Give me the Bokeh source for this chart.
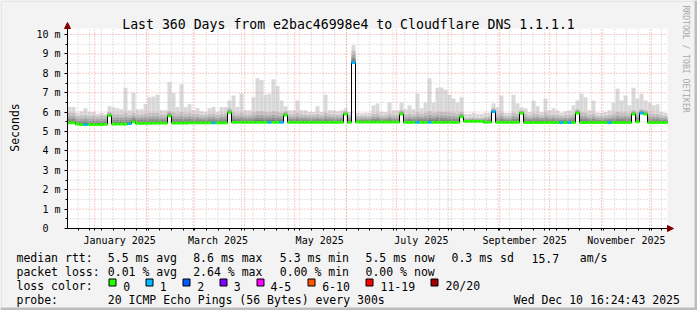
import numpy as np
import pandas as pd
from bokeh.plotting import figure
from bokeh.models import (Range1d, FixedTicker, DatetimeTickFormatter, DatetimeAxis,
                          LinearAxis, Arrow, NormalHead)
from bokeh.core.properties import value
from bokeh.embed import file_html
from bokeh.resources import INLINE

# ---------------- data ----------------
START = "2024-12-15 16:24:43"
END = "2025-12-10 16:24:43"
BIN_DAYS = 2.4

median_ms = [
    5.45, 5.45, 5.38, 5.36, 5.36, 5.35, 5.36, 5.36, 5.36, 5.37,
    5.82, 5.38, 5.38, 5.38, 5.38, 5.40, 5.50, 5.42, 5.42, 5.42,
    5.42, 5.43, 5.43, 5.43, 5.43, 5.80, 5.43, 5.43, 5.43, 5.43,
    5.45, 5.45, 5.45, 5.45, 5.45, 5.45, 5.45, 5.45, 5.45, 5.45,
    5.98, 5.47, 5.47, 5.47, 5.47, 5.47, 5.47, 5.47, 5.47, 5.47,
    5.47, 5.47, 5.47, 5.47, 5.85, 5.47, 5.47, 5.47, 5.47, 5.47,
    5.47, 5.47, 5.47, 5.47, 5.47, 5.47, 5.47, 5.47, 5.47, 5.90,
    5.47, 8.55, 5.48, 5.48, 5.48, 5.48, 5.48, 5.48, 5.48, 5.48,
    5.48, 5.48, 5.48, 5.90, 5.47, 5.47, 5.47, 5.47, 5.47, 5.47,
    5.47, 5.47, 5.47, 5.47, 5.47, 5.47, 5.47, 5.47, 5.75, 5.52,
    5.52, 5.52, 5.52, 5.52, 5.47, 5.48, 6.02, 5.47, 5.47, 5.47,
    5.47, 5.47, 5.47, 5.95, 5.46, 5.46, 5.46, 5.46, 5.46, 5.46,
    5.46, 5.46, 5.46, 5.46, 5.46, 5.46, 5.46, 5.95, 5.46, 5.46,
    5.46, 5.46, 5.46, 5.46, 5.46, 5.46, 5.46, 5.46, 5.46, 5.46,
    5.46, 5.90, 5.50, 5.95, 5.90, 5.46, 5.46, 5.46, 5.46, 5.46,
]

smoke_mid_ms = [
    5.95, 5.95, 5.80, 5.82, 5.85, 5.80, 5.82, 5.78, 5.82, 5.80,
    6.00, 5.90, 5.90, 5.88, 5.95, 5.85, 5.95, 5.88, 5.88, 5.92,
    5.95, 5.95, 5.95, 5.88, 5.88, 6.05, 5.98, 5.92, 6.00, 5.92,
    5.95, 5.88, 5.90, 5.85, 5.85, 5.90, 5.92, 5.85, 5.92, 5.92,
    6.20, 5.98, 5.92, 5.98, 5.88, 5.88, 5.98, 6.05, 6.05, 6.00,
    5.98, 6.05, 6.00, 5.95, 6.05, 5.88, 5.88, 5.95, 5.88, 5.88,
    5.85, 5.85, 5.90, 5.85, 5.95, 5.88, 5.88, 5.85, 5.88, 6.05,
    5.85, 9.15, 5.80, 5.80, 5.80, 5.80, 5.90, 5.92, 5.82, 5.82,
    5.92, 5.85, 5.85, 6.10, 5.88, 5.92, 5.88, 5.98, 5.90, 5.95,
    6.05, 5.95, 6.02, 6.02, 6.00, 5.98, 5.95, 5.92, 6.00, 5.70,
    5.70, 5.72, 5.70, 5.70, 5.75, 5.78, 6.20, 5.90, 5.95, 5.80,
    5.80, 5.95, 5.90, 6.10, 5.90, 5.82, 5.92, 5.90, 5.82, 5.95,
    5.85, 5.88, 5.85, 5.80, 5.82, 5.85, 5.90, 6.15, 5.98, 5.95,
    5.85, 5.92, 5.80, 5.80, 5.82, 5.85, 5.92, 6.00, 5.95, 5.98,
    5.92, 6.10, 5.98, 6.15, 6.10, 5.92, 5.90, 5.90, 5.82, 5.80,
]

smoke_top_ms = [
    6.26, 6.26, 5.95, 6.05, 6.20, 6.00, 6.00, 5.90, 5.95, 5.90,
    6.30, 6.25, 6.20, 6.15, 7.25, 6.10, 7.00, 6.15, 6.15, 6.40,
    6.77, 6.80, 6.90, 6.10, 6.10, 7.55, 6.98, 6.26, 7.43, 6.25,
    6.40, 6.10, 6.20, 6.05, 6.00, 6.20, 6.26, 6.00, 6.26, 6.26,
    6.60, 6.86, 6.26, 6.95, 6.10, 6.10, 6.77, 7.75, 7.65, 6.90,
    6.95, 7.70, 7.35, 6.60, 6.30, 6.10, 6.10, 6.60, 6.10, 6.10,
    6.00, 6.00, 6.30, 6.00, 6.90, 6.10, 6.10, 6.05, 6.10, 6.20,
    6.00, 9.45, 5.95, 5.93, 5.95, 5.95, 6.34, 6.45, 6.00, 6.00,
    6.50, 6.10, 6.10, 6.50, 6.15, 6.35, 6.15, 6.95, 6.20, 6.50,
    7.75, 6.50, 7.25, 7.27, 7.15, 6.90, 6.70, 6.50, 6.77, 5.90,
    5.90, 5.95, 5.90, 5.90, 5.95, 5.95, 6.45, 6.25, 6.86, 5.95,
    5.95, 6.90, 6.45, 6.25, 6.20, 6.00, 6.60, 6.30, 6.00, 6.70,
    6.10, 6.20, 6.10, 5.95, 6.05, 6.10, 6.35, 6.60, 6.95, 6.77,
    6.10, 6.60, 5.95, 5.95, 6.00, 6.10, 6.50, 7.20, 6.60, 6.86,
    6.35, 7.25, 6.70, 6.95, 6.60, 6.50, 6.35, 6.40, 6.00, 5.95,
]

loss_count = [
    0, 0, 0, 0, 1, 0, 0, 0, 0, 0,
    0, 0, 0, 0, 0, 1, 0, 0, 0, 0,
    0, 0, 0, 0, 0, 0, 0, 0, 0, 0,
    0, 0, 0, 0, 0, 0, 1, 0, 0, 0,
    0, 0, 0, 0, 0, 0, 0, 0, 0, 0,
    1, 0, 0, 1, 0, 0, 0, 0, 0, 0,
    0, 0, 0, 0, 0, 0, 0, 0, 0, 0,
    0, 1, 0, 0, 0, 0, 0, 0, 0, 0,
    0, 0, 0, 0, 0, 0, 0, 1, 0, 0,
    1, 0, 0, 0, 0, 0, 0, 0, 0, 0,
    0, 0, 0, 0, 0, 0, 1, 0, 0, 0,
    0, 0, 0, 0, 0, 0, 0, 0, 0, 0,
    0, 0, 0, 1, 0, 1, 0, 0, 0, 0,
    0, 0, 0, 0, 0, 1, 0, 0, 0, 0,
    0, 0, 0, 1, 0, 0, 0, 0, 0, 0,
]

y_tick_values = [0, 1, 2, 3, 4, 5, 6, 7, 8, 9, 10]
y_tick_labels = ["0\u00a0\u00a0", "1 m", "2 m", "3 m", "4 m", "5 m",
                 "6 m", "7 m", "8 m", "9 m", "10 m"]
x_label_dates = ["2025-01-16", "2025-03-16", "2025-05-16", "2025-07-16",
                 "2025-09-16", "2025-11-16"]
month_starts = ["2025-01-01", "2025-02-01", "2025-03-01", "2025-04-01",
                "2025-05-01", "2025-06-01", "2025-07-01", "2025-08-01",
                "2025-09-01", "2025-10-01", "2025-11-01", "2025-12-01"]
first_week_line = "2024-12-22"

loss_labels = ["0", "1", "2", "3", "4-5", "6-10", "11-19", "20/20"]
loss_colors = ["#26ff00", "#00b8ff", "#0059ff", "#7e00ff", "#ff00ff",
               "#ff5500", "#ff0000", "#a00000"]

title_text = "Last 360 Days from e2bac46998e4 to Cloudflare DNS 1.1.1.1"
rtt_row = [("median rtt:", 16), ("5.5 ms avg", 107.3), ("8.6 ms max", 192.7),
           ("5.3 ms min", 279.3), ("5.5 ms now", 365), ("0.3 ms sd", 451),
           ("15.7", 531), ("am/s", 579.3)]
loss_row = [("packet loss:", 16), ("0.01 % avg", 107.3), ("2.64 % max", 192.7),
            ("0.00 % min", 279.3), ("0.00 % now", 365)]
probe_row = [("probe:", 16), ("20 ICMP Echo Pings (56 Bytes) every 300s", 107.3),
             ("Wed Dec 10 16:24:43 2025", 513.3)]
swatch_x = [108.5, 145.5, 182.5, 219.5, 256.5, 307.5, 365.5, 430.5]
swatch_label_x = [122.7, 159.3, 196.7, 233.3, 270.0, 321.7, 380.0, 445.0]

# ---------------- layout constants ----------------
W, H = 697, 310
FL, FR, FT, FB = 67, 667, 28, 228      # plot-area edges in pixels
YMAX = 10.31
BG = "#f3f3f3"
FONT = "DejaVu Sans Mono"

t0 = pd.Timestamp(START).value / 1e6
t1 = pd.Timestamp(END).value / 1e6


def px2x(px):
    return t0 + (px - FL) / (FR - FL) * (t1 - t0)


def py2y(py):
    return (FB - py) / (FB - FT) * YMAX


def ms(d):
    return pd.Timestamp(d).value / 1e6


def loss_color(c):
    if c <= 3:
        return loss_colors[c]
    if c <= 5:
        return loss_colors[4]
    if c <= 10:
        return loss_colors[5]
    if c <= 19:
        return loss_colors[6]
    return loss_colors[7]


n = len(median_ms)
bin_ms = BIN_DAYS * 86400000.0
left = t0 + np.arange(n) * bin_ms
right = left + bin_ms
med = np.array(median_ms)
mid = np.array(smoke_mid_ms)
top = np.array(smoke_top_ms)

p = figure(width=W, height=H, title=None,
           x_range=Range1d(px2x(0), px2x(W)), y_range=Range1d(py2y(H), py2y(0)),
           x_axis_location=None, y_axis_location=None,
           output_backend="svg", toolbar_location=None,
           min_border=0, min_border_left=0, min_border_right=0,
           min_border_top=0, min_border_bottom=0,
           background_fill_color=BG, border_fill_color=BG)
p.outline_line_color = None
p.grid.visible = False

# canvas (plot area)
p.quad(left=[t0], right=[t1], bottom=[0], top=[YMAX], fill_color="white", line_color=None)

# smoke
p.quad(left=left, right=right, bottom=med, top=top, fill_color="#d9d9d9", line_color=None)
for frac, col in [(1.0, "#c0c0c0"), (0.65, "#a6a6a6"), (0.4, "#8c8c8c"), (0.18, "#707070")]:
    p.quad(left=left, right=right, bottom=med, top=med + (mid - med) * frac,
           fill_color=col, line_color=None)

# grid lines (drawn over the smoke, as rrdtool does)
week_ticks = [ms(first_week_line) + k * 7 * 86400000.0 for k in range(51)]
month_ticks = [ms(d) for d in month_starts]
minor_y = [v + 0.5 for v in y_tick_values[:-1]]
GRID_MINOR = "#c4c4c4"
GRID_MAJOR = "#f19393"
p.segment(x0=week_ticks, x1=week_ticks, y0=0, y1=YMAX,
          line_color=GRID_MINOR, line_dash="1 2", line_width=1)
p.segment(x0=t0, x1=t1, y0=minor_y, y1=minor_y,
          line_color=GRID_MINOR, line_dash="1 2", line_width=1)
p.segment(x0=month_ticks, x1=month_ticks, y0=0, y1=YMAX,
          line_color=GRID_MAJOR, line_dash="1 2", line_width=1)
p.segment(x0=t0, x1=t1, y0=y_tick_values[1:], y1=y_tick_values[1:],
          line_color=GRID_MAJOR, line_dash="1 2", line_width=1)

# median line + loss coloured band
p.step(np.append(left, t1), np.append(med, med[-1]), mode="after",
       line_color="black", line_width=1)
p.quad(left=left, right=right, bottom=med - 0.07, top=med + 0.07,
       fill_color=[loss_color(c) for c in loss_count], line_color=None)

# axes (fixed at the plot-area edges)
fmt = "%B %Y"
xa = DatetimeAxis(fixed_location=0, bounds=(t0, t1),
                  ticker=FixedTicker(ticks=[ms(d) for d in x_label_dates],
                                     minor_ticks=week_ticks + month_ticks),
                  formatter=DatetimeTickFormatter(microseconds=fmt, milliseconds=fmt,
                                                  seconds=fmt, minsec=fmt, minutes=fmt,
                                                  hourmin=fmt, hours=fmt, days=fmt,
                                                  months=fmt, years=fmt))
xa.major_tick_out = 0
xa.major_tick_in = 0
xa.minor_tick_out = 2
xa.minor_tick_in = 0
xa.major_label_standoff = 4
ya = LinearAxis(fixed_location=t0, bounds=(0, YMAX),
                ticker=FixedTicker(ticks=y_tick_values, minor_ticks=minor_y))
ya.major_label_overrides = {v: t for v, t in zip(y_tick_values, y_tick_labels)}
ya.major_tick_out = 3
ya.major_tick_in = 0
ya.minor_tick_out = 2
ya.minor_tick_in = 0
ya.major_label_standoff = 4
for ax in (xa, ya):
    ax.axis_line_color = "#000000"
    ax.major_tick_line_color = "#000000"
    ax.minor_tick_line_color = "#000000"
    ax.major_label_text_font = FONT
    ax.major_label_text_font_size = "10px"
    ax.major_label_text_color = "#000000"
p.add_layout(xa, "below")
p.add_layout(ya, "left")

# axis arrows
p.add_layout(Arrow(x_start=t1, y_start=0, x_end=px2x(673), y_end=0,
                   line_color="#800000", line_width=1,
                   end=NormalHead(size=6, fill_color="#800000", line_color="#800000")))
p.add_layout(Arrow(x_start=t0, y_start=YMAX, x_end=t0, y_end=py2y(22),
                   line_color="#800000", line_width=1,
                   end=NormalHead(size=6, fill_color="#800000", line_color="#800000")))

# image frame (3D border)
p.segment(x0=[px2x(0.5), px2x(0.5)], x1=[px2x(696.5), px2x(0.5)],
          y0=[py2y(0.5), py2y(0.5)], y1=[py2y(0.5), py2y(309.5)],
          line_color="#dcdcdc", line_width=1)
p.segment(x0=[px2x(0), px2x(695.5)], x1=[px2x(697), px2x(695.5)],
          y0=[py2y(308.5), py2y(0)], y1=[py2y(308.5), py2y(310)],
          line_color="#bdbdbd", line_width=3)


def texts(items, py, size="11.5px", align="left", color="#000000", angle=0.0):
    p.text(x=[px2x(x) for _, x in items], y=[py2y(py)] * len(items),
           text=[t for t, _ in items], text_font=value(FONT),
           text_font_size=value(size), text_align=align,
           text_baseline="alphabetic", text_color=color, angle=angle)


texts([(title_text, 348)], 24, size="13.2px", align="center")
texts([("Seconds", 14.5)], 127, align="center", angle=np.pi / 2)
texts([("RRDTOOL / TOBI OETIKER", 685)], 5, size="8.1px", color="#a8a8a8",
      angle=-np.pi / 2)
texts(rtt_row, 257.7)
texts(loss_row, 271.7)
texts([("loss color:", 16)], 285.7)
texts(list(zip(loss_labels, swatch_label_x)), 285.7)
texts(probe_row, 299.7)
p.quad(left=[px2x(x) for x in swatch_x], right=[px2x(x + 7) for x in swatch_x],
       top=py2y(278.5), bottom=py2y(285.5), fill_color=loss_colors,
       line_color="#000000", line_width=1)

open("out.html", "w").write(file_html(p, INLINE))
